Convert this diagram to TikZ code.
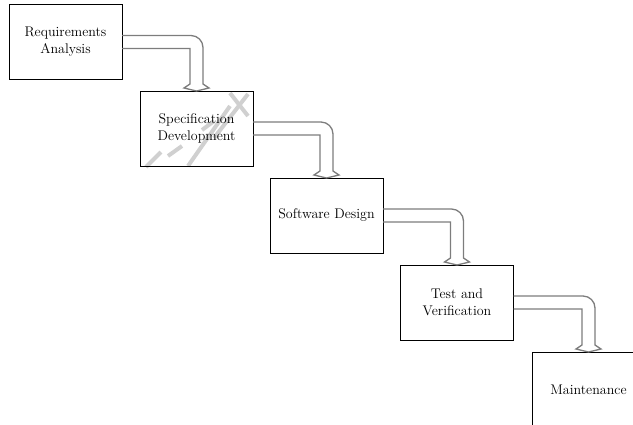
\documentclass[tikz,border=0pt]{standalone}
\usetikzlibrary{calc}

\definecolor{flowgray}{RGB}{125,125,125}
\definecolor{markgray}{RGB}{208,208,208}

\tikzset{
  stage/.style={draw=black, line width=0.9pt, minimum width=113pt, minimum height=75pt,
    inner sep=0pt, outer sep=0pt, align=center, font=\fontsize{14}{17}\selectfont},
  blockflow/.style={draw=flowgray, line width=1.3pt, line join=miter},
  wmark/.style={draw=markgray, line width=4pt}
}

% bent block arrow from the east side of #1 down onto the top of #2
\newcommand{\stepflow}[2]{%
  \draw[blockflow] let \p1=(#1.east), \p2=(#2.north) in
    (\x1,{\y1+6.5pt}) -- ({\x2-5.5pt},{\y1+6.5pt})
    .. controls ({\x2+1.1pt},{\y1+6.5pt}) and ({\x2+6.5pt},{\y1+1.1pt}) .. ({\x2+6.5pt},{\y1-5.5pt})
    -- ({\x2+6.5pt},{\y2+7pt}) -- ({\x2+12.5pt},{\y2+3pt}) -- (\x2,\y2)
    -- ({\x2-12.5pt},{\y2+3pt}) -- ({\x2-6.5pt},{\y2+7pt})
    -- ({\x2-6.5pt},{\y1-6.5pt}) -- (\x1,{\y1-6.5pt});}

\begin{document}
\begin{tikzpicture}[x=1pt, y=-1pt]
  \useasboundingbox (0,0) rectangle (633,424);
  \clip (0,0) rectangle (633,424);

  % faint stamp behind the second stage
  \draw[wmark] (146,167) -- (161,152);
  \draw[wmark] (168,156) -- (182,146);
  \draw[wmark] (188,166) -- (230,106);
  \draw[wmark] (202,130) -- (214,121);
  \draw[wmark] (214,138) -- (248,94);
  \draw[wmark] (230,93) -- (248,116);

  \node[stage] (req)  at (65.5,42)    {Requirements\\Analysis};
  \node[stage] (spec) at (196.5,128.5) {Specification\\Development};
  \node[stage] (des)  at (326.5,215.5) {Software Design};
  \node[stage] (test) at (457,302.5)   {Test and\\Verification};
  \node[stage] (main) at (588.5,389.5) {Maintenance};

  \stepflow{req}{spec}
  \stepflow{spec}{des}
  \stepflow{des}{test}
  \stepflow{test}{main}
\end{tikzpicture}
\end{document}
